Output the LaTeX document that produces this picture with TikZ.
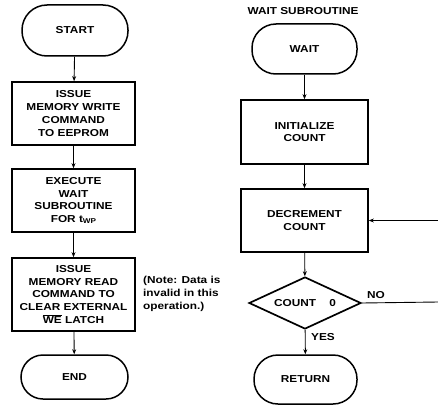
\documentclass[tikz,border=0pt]{standalone}
\usepackage{fontspec}
\setmainfont{Liberation Sans}[FakeStretch=1.17]
\usetikzlibrary{shapes.geometric,arrows.meta}
\begin{document}
\begin{tikzpicture}[x=1pt,y=-1pt,
  every node/.style={font=\bfseries\fontsize{10.1}{12.8}\selectfont},
  term/.style={draw,line width=1.5pt,rounded corners=22pt,align=center,inner sep=0pt},
  proc/.style={draw,line width=1.7pt,align=center,inner sep=0pt},
  dec/.style={draw,diamond,aspect=2.2,line width=1.7pt,inner sep=0pt,align=center},
  flow/.style={line width=0.9pt,-{Stealth[length=5pt,width=4pt]}},
  plain/.style={line width=0.9pt}]
\useasboundingbox (0,0) rectangle (438,409);
% left
\node[term,minimum width=106pt,minimum height=51pt,rounded corners=25pt] (start) at (75,30.5) {START};
\node[proc,minimum width=123pt,minimum height=63pt] (b1) at (73.5,113.5) {ISSUE\\MEMORY WRITE\\COMMAND\\TO EEPROM};
\node[proc,minimum width=123pt,minimum height=63pt] (b2) at (73.5,200.5) {EXECUTE\\WAIT\\SUBROUTINE\\FOR t\raisebox{-1.2pt}{\fontsize{7}{7}\selectfont WP}};
\node[proc,minimum width=123pt,minimum height=73pt] (b3) at (73.5,294.5) {ISSUE\\MEMORY READ\\COMMAND TO\\CLEAR EXTERNAL\\$\overline{\hbox{WE}}$ LATCH};
\node[term,minimum width=107pt,minimum height=44pt] (end) at (74.5,377) {END};
\node[align=left,anchor=west,inner sep=0pt] (note) at (143,294) {(Note: Data is\\invalid in this\\operation.)};
\draw[flow] (start) -- (b1);
\draw[flow] (b1) -- (b2);
\draw[flow] (b2) -- (b3);
\draw[flow] (b3) -- (end);
% right
\node (title) at (303,11) {WAIT SUBROUTINE};
\node[term,minimum width=105pt,minimum height=50pt,rounded corners=24pt] (wait) at (304.5,49) {WAIT};
\node[proc,minimum width=127pt,minimum height=64pt] (init) at (304.5,132) {INITIALIZE\\COUNT};
\node[proc,minimum width=127pt,minimum height=63pt] (decr) at (304.5,220.5) {DECREMENT\\COUNT};
\node[dec,minimum width=112pt,minimum height=52pt] (cnt) at (305,303) {COUNT\hspace{1.3em}0};
\node[term,minimum width=103pt,minimum height=49pt,rounded corners=24pt] (ret) at (305.5,379.5) {RETURN};
\draw[flow] (wait) -- (init);
\draw[flow] (init) -- (decr);
\draw[flow] (decr) -- (cnt);
\draw[flow] (cnt) -- (ret);
\node[anchor=west,inner sep=0pt] (yes) at (311,337) {YES};
\node[anchor=west,inner sep=0pt] (no) at (367,295) {NO};
\coordinate (noend) at (438,302);
\coordinate (loopin) at (438,220.5);
\draw[plain] (cnt.east) -- (noend);
\draw[flow] (loopin) -- (decr.east);
\end{tikzpicture}
\end{document}
